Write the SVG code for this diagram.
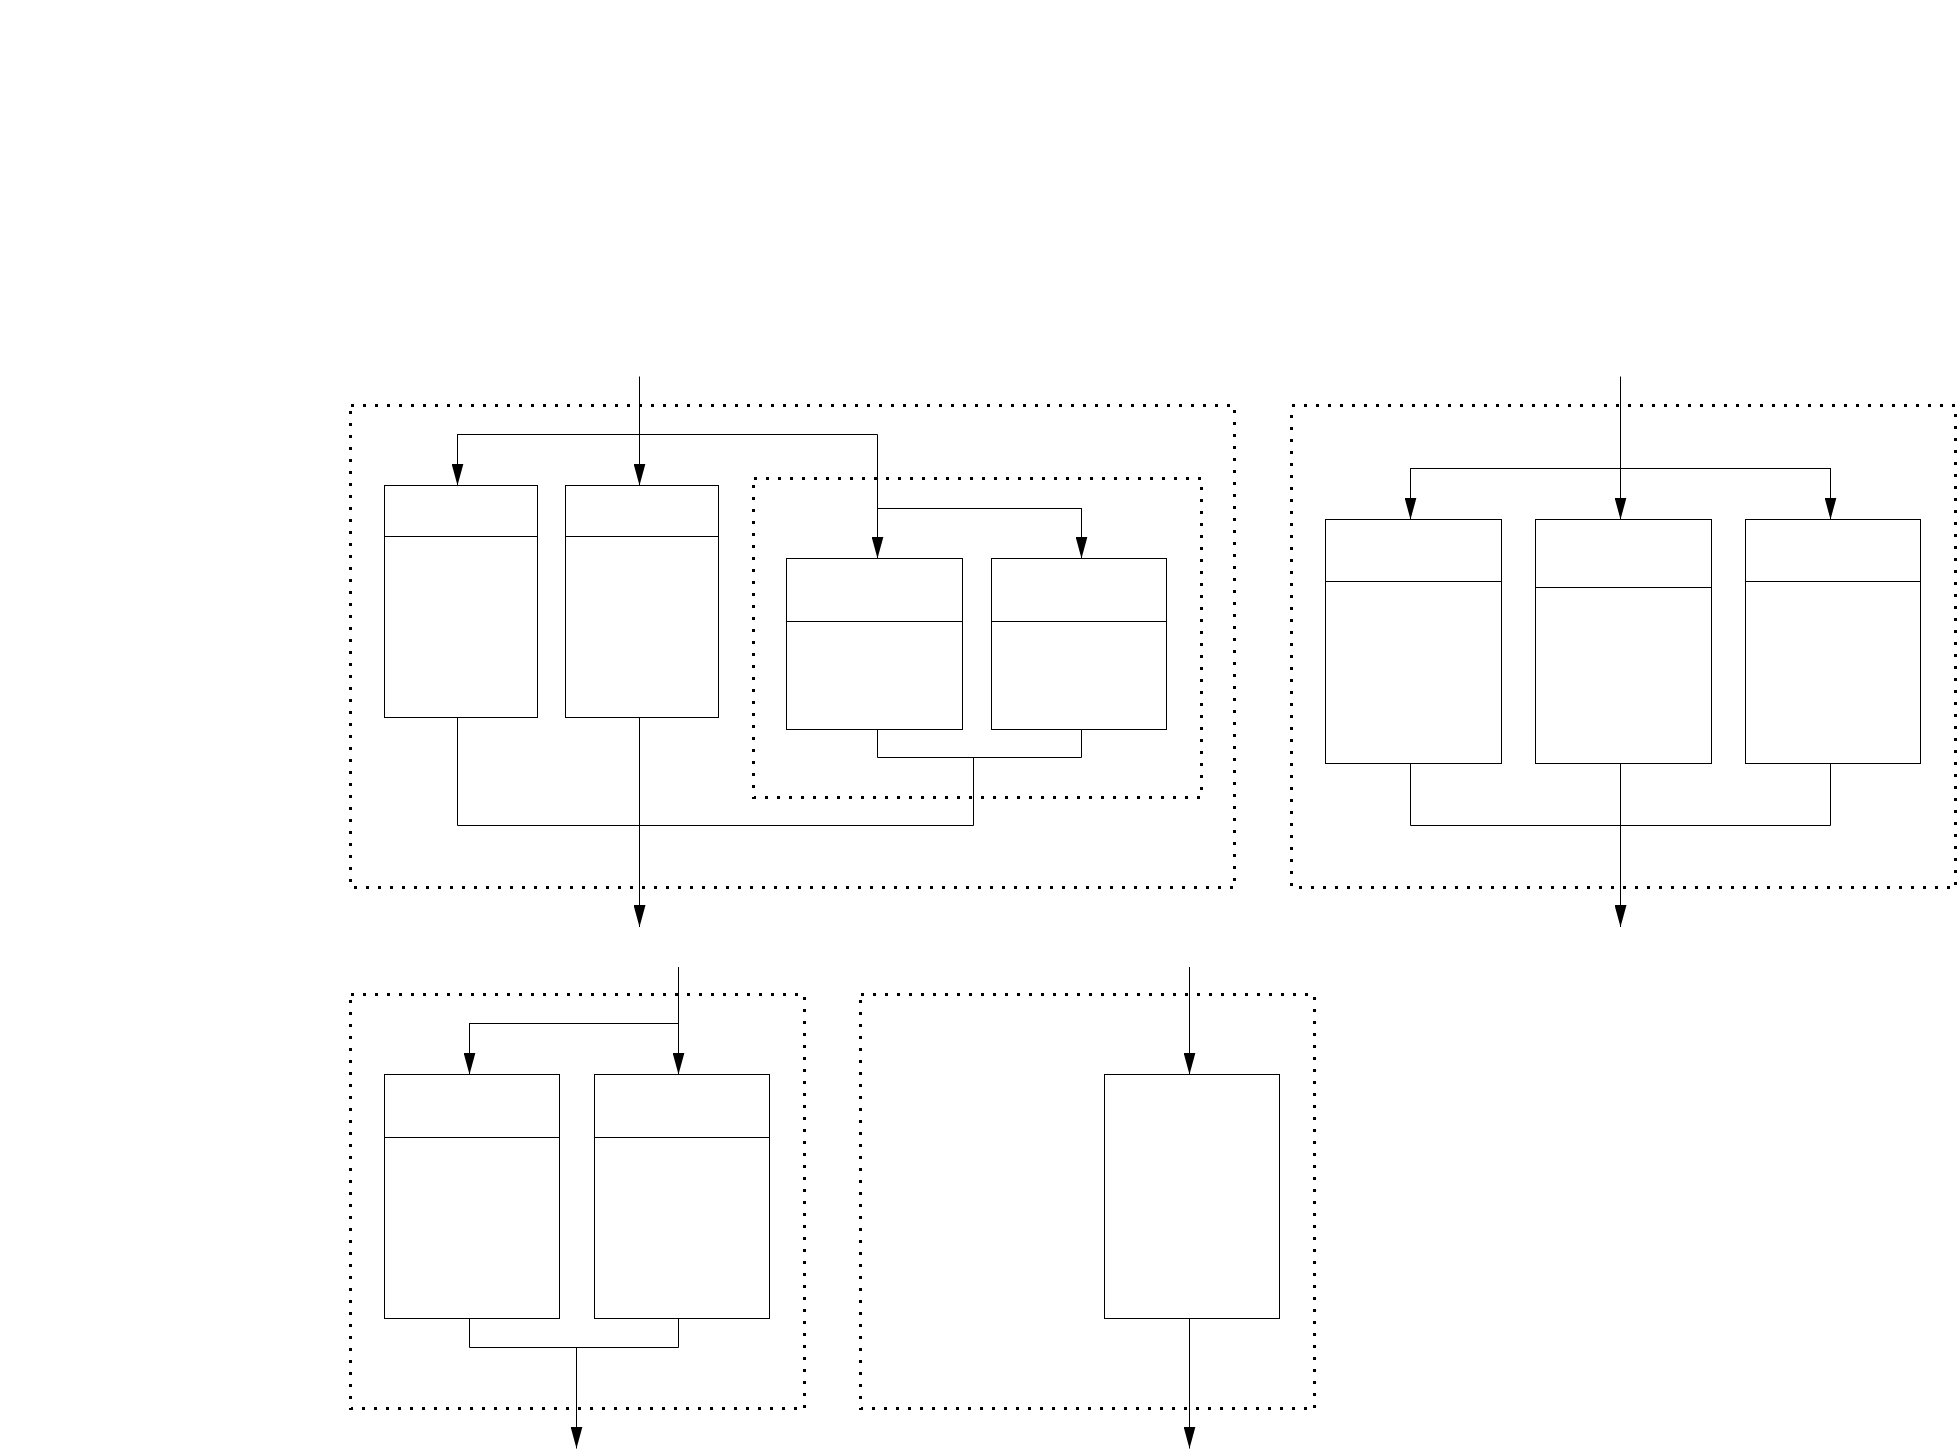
<svg xmlns="http://www.w3.org/2000/svg" width="1957" height="1449" viewBox="0 0 1957 1449">
<style>
.cl{fill:none;stroke:#000;stroke-width:3;stroke-dasharray:3 9;shape-rendering:crispEdges;}
.bx{fill:#fff;stroke:#000;stroke-width:1;}
.dv{stroke:#000;stroke-width:1;fill:none;}
.ln{fill:none;stroke:#000;stroke-width:1;}
.ar{fill:none;stroke:#000;stroke-width:1;marker-end:url(#ah);}
</style>
<defs>
<marker id="ah" markerUnits="userSpaceOnUse" markerWidth="22" markerHeight="12" refX="22" refY="6" orient="auto" viewBox="0 0 22 12">
<path d="M0,0 L22,6 L0,12 z" fill="#000"/>
</marker>
</defs>
<rect width="1957" height="1449" fill="#fff"/>

<g id="clusters">
<rect id="cluster1" class="cl" x="350.5" y="405.5" width="884" height="482"/>
<rect id="cluster1-inner" class="cl" x="753.5" y="478.5" width="448" height="318.5"/>
<rect id="cluster2" class="cl" x="1291.5" y="405.5" width="664" height="482"/>
<rect id="cluster3" class="cl" x="350.5" y="994.5" width="454" height="414"/>
<rect id="cluster4" class="cl" x="860.5" y="994.5" width="454" height="414"/>
</g>

<g id="connectors">
<!-- cluster 1 -->
<path class="ln" d="M639.5,376.5 V485.5"/>
<path class="ln" d="M457.5,434.5 H877.5"/>
<path class="ar" d="M639.5,434 V485.5"/>
<path class="ar" d="M457.5,434 V485.5"/>
<path class="ln" d="M877.5,434.5 V508.5 H1081.5"/>
<path class="ar" d="M877.5,508 V558.5"/>
<path class="ar" d="M1081.5,508 V558.5"/>
<path class="ln" d="M877.5,729.5 V757.5 H1081.5 V729.5"/>
<path class="ln" d="M973.5,757.5 V825.5 H457.5 V717.5"/>
<path class="ar" d="M639.5,717.5 V927"/>
<!-- cluster 2 -->
<path class="ln" d="M1620.5,376.5 V468.5"/>
<path class="ln" d="M1410.5,468.5 H1830.5"/>
<path class="ar" d="M1410.5,468 V519.5"/>
<path class="ar" d="M1620.5,468 V519.5"/>
<path class="ar" d="M1830.5,468 V519.5"/>
<path class="ln" d="M1410.5,763.5 V825.5 H1830.5 V763.5"/>
<path class="ar" d="M1620.5,763.5 V927"/>
<!-- cluster 3 -->
<path class="ln" d="M678.5,967 V1023.5 H469.5"/>
<path class="ar" d="M678.5,1023 V1074.5"/>
<path class="ar" d="M469.5,1023 V1074.5"/>
<path class="ln" d="M469.5,1318.5 V1347.5 H678.5 V1318.5"/>
<path class="ar" d="M576.5,1347.5 V1448.5"/>
<!-- cluster 4 -->
<path class="ar" d="M1189.5,967 V1074.5"/>
<path class="ar" d="M1189.5,1318.5 V1448.5"/>
</g>

<g id="node-1">
<rect class="bx" x="384.5" y="485.5" width="153" height="232"/>
<line class="dv" x1="384.5" y1="536.5" x2="537.5" y2="536.5"/>
</g>
<g id="node-2">
<rect class="bx" x="565.5" y="485.5" width="153" height="232"/>
<line class="dv" x1="565.5" y1="536.5" x2="718.5" y2="536.5"/>
</g>
<g id="node-3">
<rect class="bx" x="786.5" y="558.5" width="176" height="171"/>
<line class="dv" x1="786.5" y1="621.5" x2="962.5" y2="621.5"/>
</g>
<g id="node-4">
<rect class="bx" x="991.5" y="558.5" width="175" height="171"/>
<line class="dv" x1="991.5" y1="621.5" x2="1166.5" y2="621.5"/>
</g>
<g id="node-5">
<rect class="bx" x="1325.5" y="519.5" width="176" height="244"/>
<line class="dv" x1="1325.5" y1="581.5" x2="1501.5" y2="581.5"/>
</g>
<g id="node-6">
<rect class="bx" x="1535.5" y="519.5" width="176" height="244"/>
<line class="dv" x1="1535.5" y1="587.5" x2="1711.5" y2="587.5"/>
</g>
<g id="node-7">
<rect class="bx" x="1745.5" y="519.5" width="175" height="244"/>
<line class="dv" x1="1745.5" y1="581.5" x2="1920.5" y2="581.5"/>
</g>
<g id="node-8">
<rect class="bx" x="384.5" y="1074.5" width="175" height="244"/>
<line class="dv" x1="384.5" y1="1137.5" x2="559.5" y2="1137.5"/>
</g>
<g id="node-9">
<rect class="bx" x="594.5" y="1074.5" width="175" height="244"/>
<line class="dv" x1="594.5" y1="1137.5" x2="769.5" y2="1137.5"/>
</g>
<g id="node-10">
<rect class="bx" x="1104.5" y="1074.5" width="175" height="244"/>
</g>
</svg>
